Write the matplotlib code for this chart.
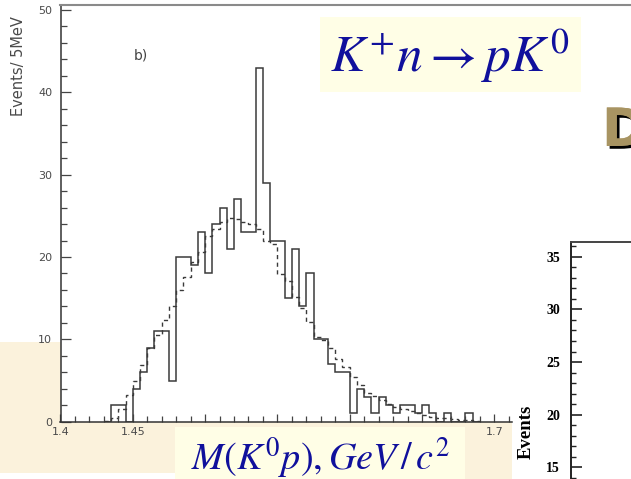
import numpy as np
import matplotlib
matplotlib.use('Agg')
import matplotlib.pyplot as plt
from matplotlib.patches import Rectangle
from matplotlib.ticker import MultipleLocator, FixedLocator
import matplotlib.patheffects as pe

plt.rcParams['mathtext.fontset'] = 'stix'

# ---------------- data ----------------
bin_width = 0.005
first_bin = 1.430
counts = [0, 2, 2, 0, 4, 6, 9, 11, 11, 5, 20, 20, 19, 23, 18, 24, 26, 21, 27, 23,
          23, 43, 29, 22, 22, 15, 21, 14, 18, 10, 10, 7, 6, 6, 1, 4, 3, 1, 3, 2,
          1, 2, 2, 1, 2, 1, 0, 1, 0, 0, 1, 0]
expected = [0.1, 0.4, 1.5, 3.2, 4.9, 6.9, 8.9, 10.5, 12.4, 14.0, 16.0, 17.6, 19.4,
            20.6, 22.6, 23.4, 24.3, 24.7, 24.6, 24.3, 24.0, 23.4, 21.9, 21.6, 17.9,
            17.1, 15.2, 13.8, 12.1, 10.3, 9.9, 8.9, 7.6, 6.6, 5.4, 4.5, 3.5, 3.1,
            2.6, 2.2, 1.8, 1.6, 1.3, 1.0, 0.8, 0.6, 0.5, 0.4, 0.3, 0.2, 0.15, 0.1]
x_major = [1.4, 1.45, 1.5, 1.55, 1.6, 1.65, 1.7]
# labels 1.5 ... 1.65 are hidden behind the axis-title box in the reference
x_labels = ['1.4', '1.45', '', '', '', '', '1.7']
y_major = [0, 10, 20, 30, 40, 50]
y2_major = [15, 20, 25, 30, 35]

title_text = r'$K^{+}n \rightarrow pK^{0}$'
xlabel_text = r'$M(K^{0}p),GeV\,/\,c^{2}$'

# ---------------- figure ----------------
W, H = 631, 479
fig = plt.figure(figsize=(W / 100, H / 100), dpi=100)
fig.patch.set_facecolor('white')


def fx(px):
    return px / W


def fy(py):
    return 1 - py / H


beige = '#fbf2dc'
pale = '#fffee6'
blue = '#10109c'

fig.add_artist(Rectangle((0, fy(473)), fx(512), (473 - 342) / H, transform=fig.transFigure,
                         facecolor=beige, edgecolor='none', zorder=-1))
fig.add_artist(Rectangle((fx(465), 0), fx(512 - 465), (479 - 465) / H, transform=fig.transFigure,
                         facecolor=beige, edgecolor='none', zorder=-1))

# main histogram axes
ax = fig.add_axes([fx(60.5), fy(421.7), fx(631 - 60.5), (421.7 - 5) / H])
ax.set_facecolor('white')
edges = first_bin + bin_width * np.arange(len(counts) + 1)
ax.stairs(counts, edges, color='#3a3a3a', lw=1.1, baseline=0)
ax.stairs(expected, edges, color='#3a3a3a', lw=1.0, baseline=None, linestyle=(0, (3, 2.5)))

ax.set_ylim(0, 50.6)
ax.set_xlim(1.4, 1.4 + (631 - 60.5) / 1446)
ax.xaxis.set_major_locator(FixedLocator(x_major))
ax.set_xticklabels(x_labels)
ax.xaxis.set_minor_locator(FixedLocator(np.round(np.arange(1.40, 1.7101, 0.01), 3)))
ax.yaxis.set_major_locator(FixedLocator(y_major))
ax.yaxis.set_minor_locator(MultipleLocator(2))
ax.tick_params(axis='x', which='major', direction='in', length=6, width=0.9, color='#444',
               labelsize=8, labelcolor='#4a4a4a', pad=4)
ax.tick_params(axis='x', which='minor', direction='in', length=4.5, width=0.9, color='#444')
ax.tick_params(axis='y', which='major', direction='in', length=7.5, width=0.9, color='#444',
               labelsize=8, labelcolor='#4a4a4a', pad=6)
ax.tick_params(axis='y', which='minor', direction='in', length=4.5, width=0.9, color='#444')
ax.spines['right'].set_visible(False)
ax.spines['top'].set_color('#8a8a8a')
ax.spines['top'].set_linewidth(1.5)
ax.spines['left'].set_color('#333')
ax.spines['left'].set_linewidth(1.1)
ax.spines['bottom'].set_color('#333')
ax.spines['bottom'].set_linewidth(1.1)
ax.spines['bottom'].set_bounds(1.4, 1.712)
ax.text(1.4 + (141 - 60.5) / 1446, 50.6 - (55 - 5) / 8.234, 'b)', fontsize=10,
        color='#444', ha='center', va='center')

fig.text(fx(19), fy(66), 'Events/ 5MeV', rotation=90, ha='center', va='center',
         fontsize=10.5, color='#4a4a4a')

# second (partially visible) chart
ax2 = fig.add_axes([fx(571), 0, fx(631 - 571), fy(242)], zorder=2)
ax2.set_facecolor('white')
ax2.set_ylim(13.87, 36.42)
ax2.set_xlim(0, 1)
ax2.yaxis.set_major_locator(FixedLocator(y2_major))
ax2.yaxis.set_minor_locator(MultipleLocator(1))
ax2.set_xticks([])
ax2.tick_params(axis='y', which='major', direction='in', length=8, width=1.2, color='#222',
                labelsize=10, pad=8)
ax2.tick_params(axis='y', which='minor', direction='in', length=3.5, width=1.0, color='#222')
for lab in ax2.get_yticklabels():
    lab.set_fontweight('bold')
    lab.set_family('Liberation Serif')
ax2.spines['right'].set_visible(False)
ax2.spines['bottom'].set_visible(False)
ax2.spines['left'].set_linewidth(1.4)
ax2.spines['top'].set_linewidth(1.4)
ax2.spines['left'].set_color('#222')
ax2.spines['top'].set_color('#444')
fig.text(fx(526), fy(432), 'Events', rotation=90, ha='center', va='center',
         fontsize=13.5, fontweight='bold', family='Liberation Serif')

# overlay boxes
fig.add_artist(Rectangle((fx(320), fy(92)), fx(581 - 320), (92 - 17) / H, transform=fig.transFigure,
                         facecolor=pale, edgecolor='none', zorder=5))
fig.text(fx(450), fy(72), title_text, ha='center', va='baseline', fontsize=37, color=blue, zorder=6)

fig.add_artist(Rectangle((fx(175), 0), fx(465 - 175), (479 - 427) / H, transform=fig.transFigure,
                         facecolor=pale, edgecolor='none', zorder=5))
fig.text(fx(320), fy(470), xlabel_text, ha='center', va='baseline', fontsize=27.5, color=blue, zorder=6)

fig.text(fx(602), fy(131), 'D', ha='left', va='center', fontsize=38, fontweight='bold',
         color='#a89462', zorder=6,
         path_effects=[pe.withSimplePatchShadow(offset=(2, -2), shadow_rgbFace='black', alpha=1.0),
                       pe.Normal()])

fig.savefig('out.png', dpi=100)
